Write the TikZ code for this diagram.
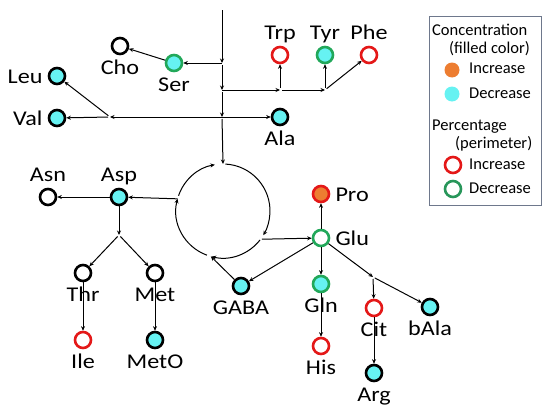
\documentclass[tikz,border=0pt]{standalone}
\usepackage{fontspec}
\setmainfont{Carlito}
\newfontfamily\lblfont{Carlito}[FakeStretch=1.15]
\usetikzlibrary{arrows.meta}
\definecolor{cy}{RGB}{102,242,242}
\definecolor{gr}{RGB}{34,168,90}
\definecolor{lgr}{RGB}{40,150,90}
\definecolor{rd}{RGB}{228,24,24}
\definecolor{og}{RGB}{237,125,49}
\definecolor{bx}{RGB}{110,120,140}
\begin{document}
\begin{tikzpicture}[x=1pt,y=-1pt,
  met/.style={circle, minimum size=16pt, inner sep=0pt, line width=2.6pt, draw=black, fill=white},
  lbl/.style={font=\lblfont\fontsize{21}{21}\selectfont, inner sep=0pt, text height=14pt, text depth=0pt},
  lb/.style={lbl, label distance=5pt},
  la/.style={lbl, label distance=6pt},
  lside/.style={lbl, label distance=5pt},
  arr/.style={-{Stealth[length=4.5pt,width=4pt]}, line width=1pt},
  fj/.style={arr, shorten <=2pt},
  leg/.style={font=\fontsize{16.5}{16.5}\selectfont, inner sep=0pt, anchor=west, text height=11pt, text depth=3pt},
  ring/.style={circle, minimum size=16pt, inner sep=0pt, line width=2.6pt, fill=white},
  dot/.style={circle, minimum size=15pt, inner sep=0pt}]
\useasboundingbox (0,0) rectangle (550,415);

% metabolites
\node[met, label={[lb]below:Cho}] (cho) at (120,46) {};
\node[met, draw=gr, fill=cy, label={[lb]below:Ser}] (ser) at (174,63) {};
\node[met, fill=cy, label={[lside]left:Leu}] (leu) at (57,76) {};
\node[met, fill=cy, label={[lside]left:Val}] (val) at (57,118) {};
\node[met, draw=rd, label={[la]above:Trp}] (trp) at (280,55) {};
\node[met, draw=gr, fill=cy, label={[la]above:Tyr}] (tyr) at (325,55) {};
\node[met, draw=rd, label={[la]above:Phe}] (phe) at (369,55) {};
\node[met, fill=cy, label={[lb]below:Ala}] (ala) at (280,117) {};
\node[met, label={[la]above:Asn}] (asn) at (48,197) {};
\node[met, fill=cy, label={[la]above:Asp}] (asp) at (119,197) {};
\node[met, label={[lb]below:Thr}] (thr) at (83,273) {};
\node[met, label={[lb]below:Met}] (met) at (155,273) {};
\node[met, draw=rd, label={[lb]below:Ile}] (ile) at (83,340) {};
\node[met, fill=cy, label={[lb]below:MetO}] (meto) at (155,340) {};
\node[met, fill=cy, label={[lb]below:GABA}] (gaba) at (241,286) {};
\node[met, draw=rd, fill=og, label={[lside]right:Pro}] (pro) at (321,194) {};
\node[met, draw=gr, label={[lside]right:Glu}] (glu) at (321,238) {};
\node[met, draw=gr, fill=cy, label={[lb]below:Gln}] (gln) at (321,284) {};
\node[met, draw=rd, label={[lb]below:His}] (his) at (321,346) {};
\node[met, draw=rd, label={[lb]below:Cit}] (cit) at (374,308) {};
\node[met, fill=cy, label={[lb]below:Arg}] (arg) at (374,373) {};
\node[met, fill=cy, label={[lb]below:bAla}] (bala) at (430,307) {};

% junctions
\coordinate (top) at (222,10);
\coordinate (j1) at (222,63);
\coordinate (j2) at (222,90);
\coordinate (j3) at (222,117);
\coordinate (jt) at (280,90);
\coordinate (jy) at (325,90);
\coordinate (jv) at (110,117);
\coordinate (ja) at (119,235);
\coordinate (jc) at (373,277);

% cycle
\begin{scope}[shift={(223,211)}, y=1pt]
  \coordinate (cT) at (90:47);
  \coordinate (cR) at (-36:48);
  \coordinate (cB) at (-105:47);
  \coordinate (cL) at (165:47);
  \draw[arr] (87:47) arc[start angle=87, end angle=-31, radius=47];
  \draw[arr] (-38:47) arc[start angle=-38, end angle=-104, radius=47];
  \draw[arr] (-110:47) arc[start angle=-110, end angle=-195, radius=47];
  \draw[arr] (161:47) arc[start angle=161, end angle=100, radius=47];
\end{scope}

% main vertical
\draw[arr] (top) -- (j1);
\draw[fj] (j1) -- (j2);
\draw[fj] (j2) -- (j3);
\draw[fj] (j3) -- (cT);
\draw[arr] (j1) -- (ser);
\draw[arr] (ser) -- (cho);
\draw[arr] (j2) -- (jt);
\draw[fj] (jt) -- (trp);
\draw[fj] (jt) -- (jy);
\draw[fj] (jy) -- (tyr);
\draw[fj] (jy) -- (phe);
\draw[arr] (j3) -- (ala);
\draw[arr] (j3) -- (jv);
\draw[fj] (jv) -- (val);
\draw[fj] (jv) -- (leu);

% left branch
\draw[arr] (cL) -- (asp);
\draw[arr] (asp) -- (asn);
\draw[arr] (asp) -- (ja);
\draw[fj] (ja) -- (thr);
\draw[fj] (ja) -- (met);
\draw[arr] (thr) -- (ile);
\draw[arr] (met) -- (meto);

% right branch
\draw[arr] (cR) -- (glu);
\draw[arr] (glu) -- (pro);
\draw[arr] (glu) -- (gln);
\draw[arr] (glu) -- (gaba);
\draw[arr] (glu) -- (jc);
\draw[fj] (jc) -- (cit);
\draw[fj] (jc) -- (bala);
\draw[arr] (gln) -- (his);
\draw[arr] (cit) -- (arg);
\draw[arr] (gaba) -- (cB);

% legend
\node[draw=bx, line width=1.2pt, minimum width=112pt, minimum height=189pt, inner sep=0pt, anchor=north west] (legbox) at (429,16) {};
\node[leg] (l1) at (432,31) {Concentration};
\node[leg] (l2) at (449,49) {(filled color)};
\node[dot, fill=og] (d1) at (452,70) {};
\node[leg] (l3) at (469,70) {Increase};
\node[dot, fill=cy] (d2) at (452,94) {};
\node[leg] (l4) at (469,94) {Decrease};
\node[leg] (l5) at (432,126) {Percentage};
\node[leg] (l6) at (455,144) {(perimeter)};
\node[ring, draw=rd] (r1) at (453,165) {};
\node[leg] (l7) at (469,165) {Increase};
\node[ring, draw=lgr] (r2) at (453,189) {};
\node[leg] (l8) at (469,189) {Decrease};
\end{tikzpicture}
\end{document}
